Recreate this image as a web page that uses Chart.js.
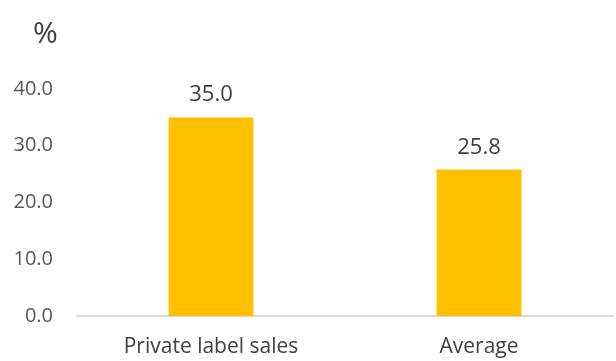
<!DOCTYPE html>
<html>
<head>
<meta charset="utf-8">
<script src="https://cdn.jsdelivr.net/npm/chart.js@4/dist/chart.umd.min.js"></script>
<style>
  body { margin: 0; background: #fff; }
</style>
</head>
<body>
<canvas id="chart" width="616" height="361"></canvas>
<script>
// chart data
const categories = ["Private label sales", "Average"];
const shareValues = [35.0, 25.8];
const yTicks = [0, 10, 20, 30, 40];

const fontFamily = "'Open Sans', sans-serif";

// value labels above the bars + the % unit label
const barLabels = {
  id: 'barLabels',
  afterDatasetsDraw(chart) {
    const ctx = chart.ctx;
    const meta = chart.getDatasetMeta(0);
    ctx.save();
    ctx.fillStyle = '#404040';
    ctx.font = '22px ' + fontFamily;
    ctx.textAlign = 'center';
    ctx.textBaseline = 'alphabetic';
    meta.data.forEach((bar, i) => {
      ctx.fillText(shareValues[i].toFixed(1), bar.x, bar.y - 16);
    });
    // unit
    ctx.font = '30px ' + fontFamily;
    ctx.textAlign = 'left';
    ctx.fillText('%', 33, 43);
    ctx.restore();
  }
};

let chart = new Chart(document.getElementById('chart'), {
  type: 'bar',
  data: {
    labels: categories,
    datasets: [{
      data: shareValues,
      backgroundColor: '#FFC000',
      barPercentage: 0.317,
      categoryPercentage: 1
    }]
  },
  options: {
    responsive: false,
    animation: false,
    layout: {
      padding: { top: 89, right: 3, left: 0, bottom: 0 }
    },
    scales: {
      x: {
        grid: { display: false, drawTicks: false },
        border: { color: '#d9d9d9', width: 2 },
        afterFit(scale) {
          scale.height = 45;
        },
        ticks: {
          color: '#404040',
          font: { family: fontFamily, size: 21 },
          padding: 18
        }
      },
      y: {
        min: 0,
        max: 40,
        grid: { display: false, drawTicks: false },
        border: { display: false },
        afterBuildTicks(scale) {
          scale.ticks = yTicks.map(v => ({ value: v }));
        },
        afterFit(scale) {
          scale.width = 77;
        },
        ticks: {
          color: '#595959',
          font: { family: fontFamily, size: 20 },
          padding: 24,
          callback: v => v.toFixed(1)
        }
      }
    },
    plugins: {
      legend: { display: false },
      tooltip: { enabled: false }
    }
  },
  plugins: [barLabels]
});
</script>
</body>
</html>
